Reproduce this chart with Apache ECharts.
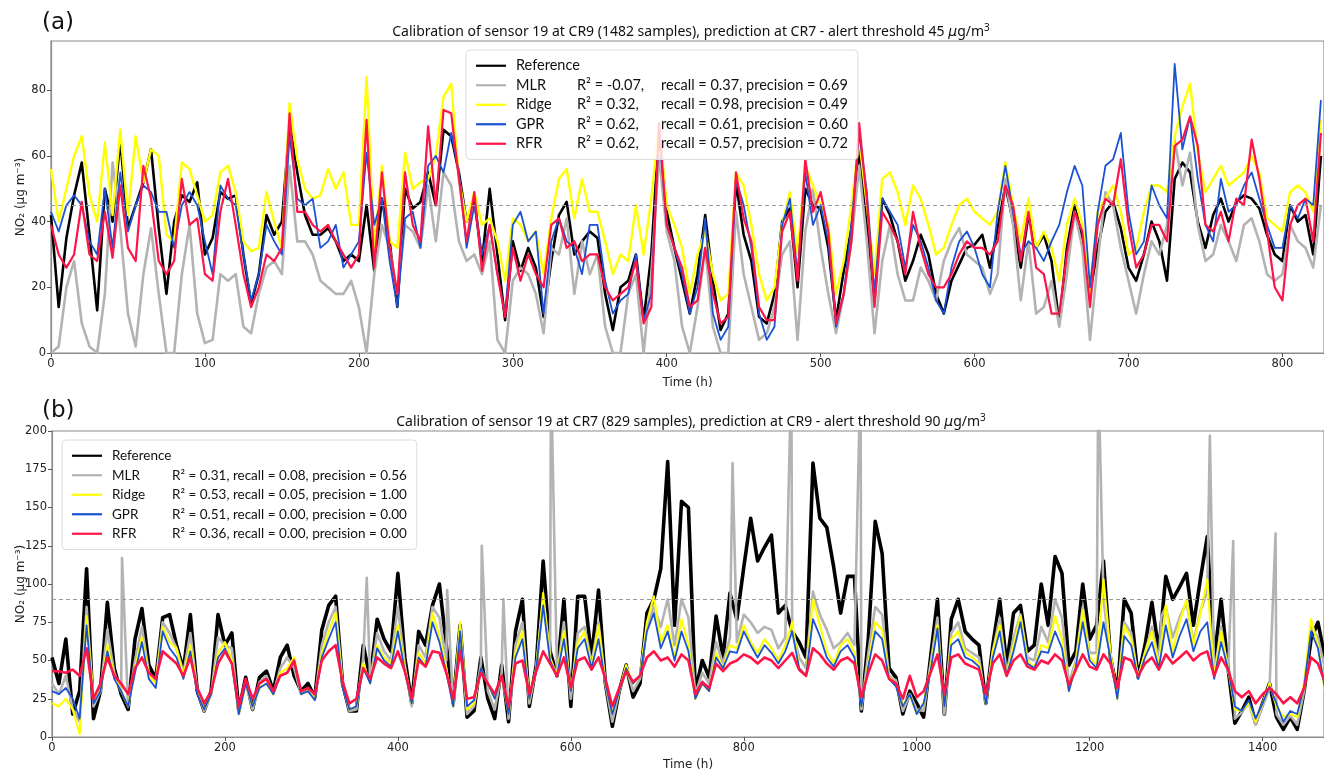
<!DOCTYPE html>
<html>
<head>
<meta charset="utf-8">
<title>NO2 sensor calibration</title>
<script src="https://cdn.jsdelivr.net/npm/echarts@6/dist/echarts.min.js"></script>
<style>
html, body { margin: 0; padding: 0; background: #fff; }
#chart { width: 1324px; height: 772px; }
</style>
</head>
<body>
<div id="chart"></div>
<script>
// panel (a): calibration at CR9, prediction at CR7, sampled every 5 h
const stepA = 5;
const refA = [
  42, 14, 35, 48, 58, 36, 13, 50, 40, 65,
  38, 45, 52, 62, 38, 18, 40, 48, 46, 52,
  30, 35, 49, 47, 48, 30, 15, 24, 42, 36,
  40, 70, 55, 42, 36, 36, 38, 34, 28, 30,
  28, 45, 25, 47, 34, 14, 50, 44, 46, 55,
  45, 68, 66, 55, 40, 47, 28, 50, 30, 10,
  34, 25, 32, 26, 11, 28, 42, 46, 30, 34,
  37, 35, 18, 7, 20, 22, 30, 10, 30, 68,
  43, 32, 22, 12, 24, 42, 22, 7, 12, 52,
  36, 28, 11, 9, 18, 40, 44, 20, 50, 45,
  44, 32, 10, 25, 38, 62, 40, 16, 47, 42,
  34, 22, 28, 36, 30, 18, 12, 22, 27, 32,
  33, 36, 26, 38, 51, 40, 26, 42, 32, 36,
  28, 9, 32, 45, 35, 18, 32, 43, 46, 38,
  26, 22, 30, 40, 34, 22, 53, 58, 55, 40,
  32, 42, 47, 40, 46, 48, 47, 44, 36, 30,
  28, 45, 40, 42, 30, 60
];
const mlrA = [
  0, 2, 20, 28, 9, 2, 0, 18, 58, 38,
  12, 2, 24, 38, 18, 0, 0, 24, 39, 12,
  3, 4, 24, 22, 24, 8, 6, 18, 26, 28,
  24, 57, 34, 34, 30, 22, 20, 18, 18, 22,
  14, 0, 24, 39, 32, 18, 39, 37, 32, 51,
  34, 55, 51, 34, 28, 30, 24, 34, 4, 0,
  22, 26, 24, 18, 6, 32, 30, 41, 18, 34,
  24, 30, 8, 0, 0, 18, 24, 0, 24, 60,
  37, 28, 8, 0, 14, 32, 8, 0, 0, 43,
  24, 14, 4, 6, 14, 30, 34, 4, 37, 50,
  32, 18, 6, 18, 34, 57, 34, 6, 28, 39,
  24, 16, 16, 26, 22, 16, 28, 34, 38, 30,
  28, 26, 18, 24, 53, 39, 16, 34, 12, 14,
  22, 8, 24, 43, 32, 4, 28, 49, 45, 32,
  22, 12, 24, 34, 30, 39, 65, 51, 61, 39,
  28, 30, 39, 34, 28, 39, 41, 34, 24, 22,
  24, 39, 34, 32, 26, 45
];
const ridgeA = [
  56, 40, 50, 60, 66, 48, 40, 64, 42, 68,
  42, 66, 52, 62, 60, 36, 34, 58, 56, 48,
  40, 42, 55, 57, 49, 34, 31, 32, 49, 40,
  32, 76, 59, 50, 47, 48, 56, 50, 55, 39,
  39, 84, 32, 57, 34, 32, 61, 50, 52, 53,
  60, 78, 82, 53, 40, 49, 39, 41, 34, 22,
  41, 39, 34, 37, 24, 41, 53, 56, 41, 53,
  43, 43, 34, 24, 30, 28, 45, 30, 47, 70,
  45, 39, 32, 18, 30, 37, 24, 16, 18, 55,
  51, 39, 24, 16, 20, 39, 49, 30, 57, 51,
  45, 39, 18, 28, 45, 65, 45, 24, 53, 55,
  49, 39, 51, 47, 39, 30, 32, 39, 45, 47,
  43, 41, 39, 43, 58, 45, 34, 47, 32, 37,
  32, 22, 39, 47, 39, 18, 43, 47, 51, 43,
  30, 32, 43, 51, 51, 49, 66, 75, 82, 61,
  49, 53, 57, 51, 53, 55, 60, 55, 41, 39,
  37, 49, 51, 49, 43, 71
];
const gprA = [
  43, 37, 45, 48, 45, 34, 30, 50, 32, 55,
  37, 45, 51, 49, 43, 43, 32, 45, 49, 45,
  34, 24, 51, 47, 45, 30, 16, 24, 39, 34,
  30, 66, 47, 45, 47, 32, 34, 39, 26, 30,
  34, 61, 39, 47, 28, 14, 41, 43, 32, 57,
  60, 55, 67, 55, 32, 45, 30, 39, 24, 12,
  39, 43, 34, 37, 12, 34, 41, 34, 32, 24,
  39, 39, 22, 12, 16, 18, 30, 10, 18, 68,
  39, 32, 24, 12, 20, 41, 12, 4, 8, 53,
  45, 32, 12, 4, 8, 39, 47, 24, 55, 39,
  45, 34, 8, 18, 39, 67, 49, 18, 47, 43,
  39, 26, 39, 34, 26, 16, 12, 26, 34, 37,
  32, 24, 20, 43, 57, 43, 30, 34, 32, 28,
  34, 39, 49, 57, 51, 20, 43, 57, 59, 67,
  43, 30, 34, 51, 45, 41, 88, 62, 72, 53,
  39, 34, 53, 43, 45, 51, 55, 47, 39, 32,
  32, 45, 41, 47, 45, 77
];
const rfrA = [
  39, 30, 26, 30, 46, 30, 28, 43, 29, 51,
  32, 28, 57, 47, 28, 24, 28, 53, 39, 41,
  24, 22, 43, 53, 39, 24, 14, 20, 30, 28,
  32, 73, 43, 43, 39, 37, 39, 34, 30, 26,
  30, 71, 26, 55, 32, 18, 55, 39, 34, 69,
  45, 74, 73, 53, 34, 49, 25, 39, 24, 11,
  32, 22, 30, 24, 20, 39, 41, 32, 34, 28,
  30, 30, 20, 16, 18, 20, 28, 9, 14, 70,
  39, 32, 26, 14, 16, 32, 18, 9, 11, 55,
  41, 34, 14, 10, 10, 37, 43, 22, 59, 43,
  49, 37, 9, 18, 34, 70, 47, 14, 43, 39,
  34, 24, 43, 32, 24, 20, 20, 24, 30, 34,
  32, 32, 30, 34, 51, 45, 28, 43, 26, 24,
  12, 12, 30, 43, 37, 14, 39, 47, 45, 59,
  39, 26, 30, 39, 39, 34, 63, 65, 72, 63,
  39, 37, 43, 34, 47, 45, 65, 53, 37, 20,
  16, 39, 45, 47, 34, 67
];

// panel (b): calibration at CR7, prediction at CR9, sampled every 8 h
const stepB = 8;
const refB = [
  52, 35, 64, 15, 30, 110, 12, 30, 88, 45,
  28, 18, 64, 84, 47, 38, 78, 80, 60, 44,
  80, 30, 17, 30, 80, 60, 68, 17, 39, 18,
  39, 43, 30, 52, 60, 40, 30, 35, 26, 70,
  86, 92, 35, 17, 17, 60, 38, 77, 64, 56,
  107, 52, 22, 69, 60, 86, 100, 60, 22, 73,
  13, 17, 52, 25, 12, 47, 10, 69, 90, 20,
  47, 115, 56, 40, 90, 20, 92, 92, 52, 96,
  35, 7, 30, 47, 26, 35, 81, 90, 110, 180,
  73, 154, 150, 30, 50, 39, 79, 52, 94, 77,
  111, 143, 115, 124, 132, 81, 86, 69, 62, 52,
  179, 143, 137, 111, 81, 105, 105, 17, 64, 141,
  120, 45, 39, 15, 30, 22, 13, 52, 90, 15,
  77, 90, 69, 64, 60, 22, 60, 90, 47, 81,
  86, 56, 60, 100, 73, 118, 107, 47, 56, 100,
  64, 73, 115, 52, 30, 90, 81, 39, 60, 88,
  56, 105, 90, 98, 107, 73, 103, 131, 50, 90,
  45, 9, 17, 26, 9, 22, 35, 13, 5, 13,
  5, 30, 64, 75, 52
];
const mlrB = [
  35, 28, 40, 18, 10, 85, 20, 30, 70, 42,
  30, 20, 50, 72, 42, 36, 75, 68, 58, 42,
  68, 30, 17, 28, 65, 60, 58, 15, 36, 18,
  36, 40, 28, 45, 52, 45, 28, 32, 25, 60,
  75, 85, 35, 17, 18, 52, 36, 68, 56, 50,
  85, 47, 20, 60, 52, 85, 78, 50, 20, 70,
  15, 20, 48, 30, 18, 42, 12, 60, 75, 22,
  45, 90, 52, 40, 75, 25, 68, 72, 48, 75,
  35, 10, 30, 45, 30, 38, 72, 85, 72, 90,
  60, 90, 78, 28, 42, 35, 62, 48, 65, 62,
  80, 75, 68, 72, 70, 58, 65, 70, 52, 45,
  95, 80, 70, 58, 62, 68, 60, 18, 55, 85,
  80, 40, 37, 17, 28, 18, 17, 48, 78, 15,
  68, 75, 58, 55, 52, 22, 56, 78, 42, 65,
  80, 52, 50, 72, 62, 90, 78, 35, 50, 85,
  55, 55, 90, 52, 28, 75, 68, 38, 55, 72,
  50, 85, 65, 78, 88, 62, 82, 95, 40, 72,
  42, 12, 16, 22, 8, 20, 32, 15, 8, 14,
  8, 30, 72, 65, 45
];
// single-hour MLR outliers: [hour, value]
const mlrSpikesB = [
  [81, 117], [364, 104], [457, 96], [497, 125], [522, 90], [577, 240],
  [787, 179], [855, 240], [935, 240], [1210, 240], [1283, 79],
  [1339, 197], [1366, 128], [1415, 133]
];
const ridgeB = [
  22, 20, 25, 18, 2, 79, 25, 30, 60, 40,
  30, 20, 45, 65, 40, 35, 72, 62, 58, 40,
  60, 30, 18, 28, 55, 62, 50, 15, 35, 20,
  32, 35, 28, 42, 45, 52, 28, 30, 25, 55,
  69, 81, 35, 18, 20, 48, 35, 60, 52, 48,
  73, 45, 22, 55, 48, 81, 66, 45, 20, 75,
  18, 22, 45, 35, 25, 40, 15, 55, 69, 25,
  45, 94, 52, 40, 69, 30, 62, 69, 45, 73,
  35, 15, 30, 47, 35, 40, 75, 92, 62, 73,
  52, 77, 60, 25, 35, 30, 55, 45, 60, 58,
  73, 62, 55, 64, 58, 50, 60, 75, 45, 40,
  90, 73, 56, 48, 60, 64, 55, 20, 48, 75,
  70, 39, 35, 20, 28, 15, 22, 45, 73, 20,
  64, 69, 55, 52, 48, 22, 56, 73, 40, 60,
  79, 50, 45, 60, 58, 79, 64, 30, 48, 83,
  52, 47, 103, 56, 25, 73, 64, 39, 55, 69,
  47, 86, 56, 75, 90, 60, 81, 103, 39, 69,
  45, 18, 17, 22, 10, 22, 35, 20, 13, 15,
  13, 35, 77, 60, 30
];
const gprB = [
  30, 28, 32, 25, 12, 73, 22, 30, 56, 38,
  30, 20, 42, 62, 38, 32, 69, 58, 52, 38,
  56, 28, 18, 28, 52, 58, 48, 15, 35, 20,
  32, 35, 28, 40, 42, 50, 28, 30, 24, 52,
  64, 75, 33, 18, 20, 45, 35, 58, 50, 46,
  69, 43, 22, 52, 46, 75, 62, 42, 20, 69,
  20, 24, 45, 35, 25, 40, 15, 52, 64, 25,
  45, 86, 50, 40, 64, 30, 58, 64, 45, 64,
  35, 15, 30, 45, 35, 40, 69, 81, 58, 69,
  50, 69, 56, 25, 35, 30, 52, 45, 56, 55,
  69, 60, 52, 60, 55, 48, 56, 69, 45, 40,
  77, 66, 52, 46, 56, 60, 52, 20, 46, 69,
  64, 38, 33, 20, 28, 15, 22, 43, 71, 20,
  60, 64, 52, 50, 46, 22, 52, 69, 40, 56,
  75, 48, 45, 56, 55, 69, 58, 30, 46, 75,
  50, 45, 75, 52, 25, 66, 60, 38, 52, 62,
  45, 73, 52, 66, 77, 56, 69, 75, 38, 62,
  45, 20, 17, 24, 12, 22, 33, 22, 10, 17,
  15, 33, 69, 58, 32
];
const rfrB = [
  43, 43, 42, 44, 40, 58, 25, 35, 52, 40,
  35, 28, 45, 52, 42, 38, 56, 52, 48, 40,
  52, 32, 22, 30, 48, 56, 48, 20, 38, 25,
  35, 38, 30, 40, 42, 50, 30, 32, 28, 50,
  56, 60, 36, 22, 25, 45, 38, 52, 48, 45,
  56, 43, 25, 50, 46, 56, 55, 42, 25, 56,
  25, 26, 42, 35, 28, 40, 20, 48, 50, 28,
  43, 56, 48, 40, 52, 32, 50, 52, 44, 52,
  38, 20, 32, 43, 36, 40, 52, 56, 50, 52,
  46, 54, 50, 28, 36, 32, 48, 43, 48, 50,
  54, 52, 48, 52, 50, 45, 50, 55, 44, 40,
  58, 54, 48, 44, 50, 52, 48, 26, 42, 54,
  50, 38, 35, 25, 40, 26, 30, 42, 54, 28,
  52, 54, 48, 46, 44, 28, 48, 54, 40, 50,
  54, 46, 44, 50, 48, 54, 50, 34, 44, 54,
  46, 44, 54, 48, 32, 52, 50, 40, 48, 52,
  44, 54, 48, 52, 56, 50, 54, 56, 40, 52,
  44, 30, 26, 30, 22, 28, 32, 28, 22, 26,
  22, 32, 52, 48, 36
];

const thresholdA = 45;
const thresholdB = 90;

const legendA = {
  Reference: ['Reference'],
  MLR: ['MLR', 'R² = -0.07,', 'recall = 0.37, precision = 0.69'],
  Ridge: ['Ridge', 'R² = 0.32,', 'recall = 0.98, precision = 0.49'],
  GPR: ['GPR', 'R² = 0.62,', 'recall = 0.61, precision = 0.60'],
  RFR: ['RFR', 'R² = 0.62,', 'recall = 0.57, precision = 0.72']
};
const legendB = {
  Reference: ['Reference'],
  MLR: ['MLR', 'R² = 0.31, recall = 0.08, precision = 0.56'],
  Ridge: ['Ridge', 'R² = 0.53, recall = 0.05, precision = 1.00'],
  GPR: ['GPR', 'R² = 0.51, recall = 0.00, precision = 0.00'],
  RFR: ['RFR', 'R² = 0.36, recall = 0.00, precision = 0.00']
};
const names = ['Reference', 'MLR', 'Ridge', 'GPR', 'RFR'];
const colors = { Reference: '#000000', MLR: '#b3b3b3', Ridge: '#ffff00', GPR: '#1a52d4', RFR: '#ff1448' };

const pairs = (vals, step) => vals.map((v, i) => [i * step, v]);

const chart = echarts.init(document.getElementById('chart'));

function line(name, data, idx, width, threshold) {
  const s = {
    name: name,
    type: 'line',
    xAxisIndex: idx,
    yAxisIndex: idx,
    data: data,
    symbol: 'none',
    showSymbol: false,
    lineStyle: { color: colors[name], width: width, join: 'round' },
    itemStyle: { color: colors[name] },
    emphasis: { disabled: true },
    animation: false
  };
  if (threshold !== undefined) {
    s.markLine = {
      silent: true,
      symbol: ['none', 'none'],
      label: { show: false },
      lineStyle: { color: '#999', type: [4, 3], width: 1.2 },
      data: [{ yAxis: threshold }]
    };
  }
  return s;
}

function legendFor(table, left, top, nameWidth, midWidth, size) {
  return {
    orient: 'vertical',
    left: left,
    top: top,
    data: names,
    icon: 'rect',
    itemWidth: 30,
    itemHeight: 2.2,
    itemGap: 0,
    padding: [6, 10, 6, 10],
    backgroundColor: 'rgba(255,255,255,0.8)',
    borderColor: '#dcdcdc',
    borderWidth: 1,
    borderRadius: 4,
    selectedMode: false,
    textStyle: {
      fontFamily: 'Lato',
      fontSize: size,
      color: '#111',
      lineHeight: 19.5,
      rich: {
        n: { width: nameWidth, fontFamily: 'Lato', fontSize: size, lineHeight: 19.5, padding: [0, 0, 0, 5] },
        r: { width: midWidth, fontFamily: 'Lato', fontSize: size, lineHeight: 19.5 },
        p: { fontFamily: 'Lato', fontSize: size, lineHeight: 19.5 }
      }
    },
    formatter: function (name) {
      const row = table[name];
      let out = '{n|' + row[0] + '}';
      if (row.length === 3) out += '{r|' + row[1] + '}{p|' + row[2] + '}';
      else if (row.length === 2) out += '{p|' + row[1] + '}';
      return out;
    }
  };
}

const axisCommon = {
  type: 'value',
  axisLine: { show: true, lineStyle: { color: '#8c8c8c', width: 1.2 } },
  axisTick: { show: true, length: 4, lineStyle: { color: '#555' } },
  splitLine: { show: false },
  nameMoveOverlap: false,
  nameTextStyle: { fontFamily: 'DejaVu Sans', fontSize: 12, color: '#222' },
  axisLabel: {
    fontFamily: 'DejaVu Sans', fontSize: 11.5, color: '#222', margin: 5,
    formatter: function (v) { return String(v); }
  }
};

function axis(extra, labelExtra) {
  const a = Object.assign({}, axisCommon, extra);
  a.axisLabel = Object.assign({}, axisCommon.axisLabel, labelExtra || {});
  return a;
}

const titleRich = {
  i: { fontFamily: 'DejaVu Sans', fontStyle: 'italic', fontSize: 14, lineHeight: 18 },
  s: { fontFamily: 'Noto Sans', fontSize: 10, lineHeight: 18, verticalAlign: 'top' }
};

chart.setOption({
  backgroundColor: '#ffffff',
  animation: false,
  graphic: [
    { type: 'text', left: 42, top: 12, style: { text: '(a)', font: '23px "DejaVu Sans"', fill: '#111' } },
    { type: 'text', left: 42, top: 400, style: { text: '(b)', font: '23px "DejaVu Sans"', fill: '#111' } },
    {
      type: 'text', x: 691, y: 32,
      style: {
        text: 'Calibration of sensor 19 at CR9 (1482 samples), prediction at CR7 - alert threshold 45 {i|μ}g/m{s|3}',
        fontFamily: 'Noto Sans', fontSize: 14, lineHeight: 18, fill: '#111',
        align: 'center', verticalAlign: 'middle', rich: titleRich
      }
    },
    {
      type: 'text', x: 691, y: 422,
      style: {
        text: 'Calibration of sensor 19 at CR7 (829 samples), prediction at CR9 - alert threshold 90 {i|μ}g/m{s|3}',
        fontFamily: 'Noto Sans', fontSize: 14, lineHeight: 18, fill: '#111',
        align: 'center', verticalAlign: 'middle', rich: titleRich
      }
    }
  ],
  legend: [
    legendFor(legendA, 466, 50, 61, 84, 14.5),
    legendFor(legendB, 62, 440, 60, 0, 13.5)
  ],
  grid: [
    { left: 51, top: 41, width: 1274, height: 312, show: true, borderColor: '#8c8c8c', borderWidth: 1.2, backgroundColor: 'transparent' },
    { left: 52, top: 431, width: 1273, height: 313, show: true, borderColor: '#8c8c8c', borderWidth: 1.2, backgroundColor: 'transparent' }
  ],
  xAxis: [
    axis({ gridIndex: 0, min: 0, max: 827, interval: 100, name: 'Time (h)', nameLocation: 'middle', nameGap: 24 }, { showMaxLabel: false }),
    axis({ gridIndex: 1, min: 0, max: 1471, interval: 200, name: 'Time (h)', nameLocation: 'middle', nameGap: 22 }, { showMaxLabel: false })
  ],
  yAxis: [
    axis({ gridIndex: 0, min: 0, max: 95, interval: 20, name: 'NO₂ (μg m⁻³)', nameLocation: 'middle', nameGap: 24 }, { showMaxLabel: false }),
    axis({ gridIndex: 1, min: 0, max: 200, interval: 25, name: 'NO₂ (μg m⁻³)', nameLocation: 'middle', nameGap: 25 }, { showMaxLabel: true })
  ],
  series: [
    line('Reference', pairs(refA, stepA), 0, 2.6),
    line('MLR', pairs(mlrA, stepA), 0, 2.6),
    line('Ridge', pairs(ridgeA, stepA), 0, 2.4),
    line('GPR', pairs(gprA, stepA), 0, 1.8),
    line('RFR', pairs(rfrA, stepA), 0, 2.2, thresholdA),
    line('Reference', pairs(refB, stepB), 1, 3.6),
    line('MLR', pairs(mlrB, stepB).concat(mlrSpikesB).sort((a, b) => a[0] - b[0]), 1, 2.6),
    line('Ridge', pairs(ridgeB, stepB), 1, 2.2),
    line('GPR', pairs(gprB, stepB), 1, 1.8),
    line('RFR', pairs(rfrB, stepB), 1, 2.6, thresholdB)
  ]
});
</script>
</body>
</html>
